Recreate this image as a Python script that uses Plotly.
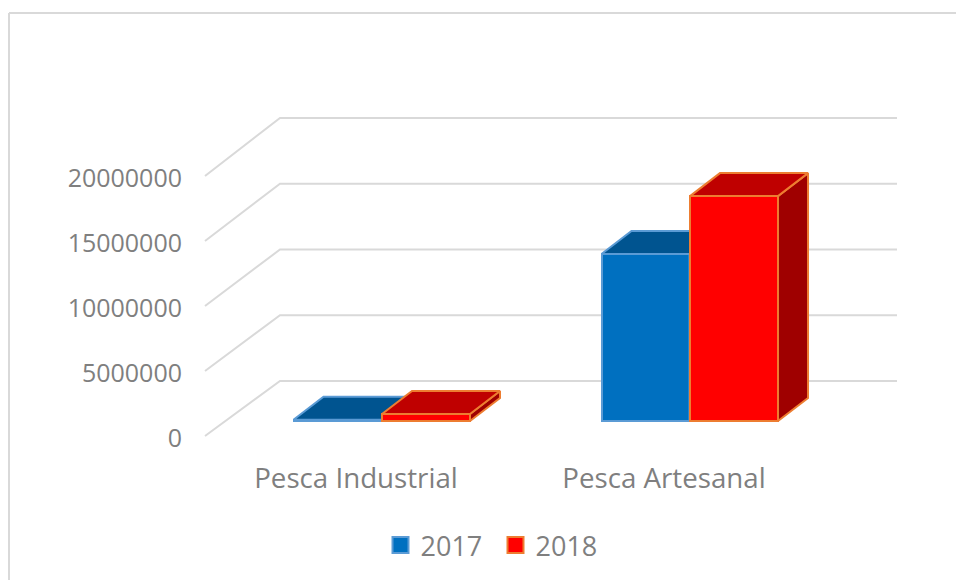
import plotly.graph_objects as go

categories = ["Pesca Industrial", "Pesca Artesanal"]
series_names = ["2017", "2018"]
values_2017 = [100000, 12850000]
values_2018 = [540000, 17300000]
y_ticks = [0, 5000000, 10000000, 15000000, 20000000]

W, H = 956, 580
PX_Y = 13.0 / 1e6        # pixels per value unit
PX_X = 308.0             # pixels per category
X0 = 356.0               # pixel of first category
Y0 = 438.0               # pixel of value 0
LEFT, BOTTOM = 190, 452

def dx(px):
    return px / PX_X

def dy(px):
    return px / PX_Y

x_range = [(LEFT - X0) / PX_X, (W - X0) / PX_X]
y_range = [(Y0 - BOTTOM) / PX_Y, Y0 / PX_Y]

FONT = "Open Sans"
TEXT = "#7f7f7f"
GRID = "#d9d9d9"
BAR_W = dx(88)
DEPTH_X, DEPTH_Y = dx(30), dy(23)
BASE = dy(17)
OFFSETS = [dx(-62.5), dx(26)]
STYLE = [
    dict(front="#0070c0", top="#005490", side="#004f86", line="#5b9bd5"),
    dict(front="#ff0000", top="#bf0000", side="#9f0000", line="#ed7d31"),
]

fig = go.Figure()

# Wall and floor gridlines
BACK_X, BACK_Y = dx(75), dy(55)
BACK_SCALE = 65.75 / 65
GRID_SHIFT = dy(2)
grid_left = dx(205 - X0)
grid_right = dx(897 - X0)
gx, gy = [], []
for t in y_ticks:
    gx += [grid_left, grid_left + BACK_X, grid_right, None]
    gy += [t + GRID_SHIFT, t * BACK_SCALE + BACK_Y + GRID_SHIFT, t * BACK_SCALE + BACK_Y + GRID_SHIFT, None]
fig.add_trace(go.Scatter(x=gx, y=gy, mode="lines", line=dict(color=GRID, width=2),
                         hoverinfo="skip", showlegend=False))

for i, (name, vals) in enumerate(zip(series_names, [values_2017, values_2018])):
    st = STYLE[i]
    xa, ya = f"x{i + 2}", f"y{i + 2}"
    off = OFFSETS[i]
    fig.add_trace(go.Bar(x=list(range(len(categories))), y=vals, base=BASE, offset=off, width=BAR_W,
                         marker=dict(color=st["front"], line=dict(color=st["line"], width=2)),
                         xaxis=xa, yaxis=ya, name=name, showlegend=False))
    sx, sy, tx, ty = [], [], [], []
    for k, v in enumerate(vals):
        l = k + off
        r = l + BAR_W
        top = BASE + v
        sx += [r, r + DEPTH_X, r + DEPTH_X, r, r, None]
        sy += [BASE, BASE + DEPTH_Y, top + DEPTH_Y, top, BASE, None]
        tx += [l, l + DEPTH_X, r + DEPTH_X, r, l, None]
        ty += [top, top + DEPTH_Y, top + DEPTH_Y, top, top, None]
    for px, py, col in [(sx, sy, st["side"]), (tx, ty, st["top"])]:
        fig.add_trace(go.Scatter(x=px, y=py, mode="lines", fill="toself", fillcolor=col,
                                 line=dict(color=st["line"], width=2), xaxis=xa, yaxis=ya,
                                 hoverinfo="skip", showlegend=False))

# Legend entries
for i, name in enumerate(series_names):
    fig.add_trace(go.Scatter(x=[None], y=[None], mode="markers", name=name,
                             marker=dict(symbol="square", size=16, color=STYLE[i]["front"],
                                         line=dict(color=STYLE[i]["line"], width=2))))

frame = dict(type="line", xref="paper", yref="paper", line=dict(color=GRID, width=2))
pw, ph = W - LEFT, BOTTOM
def fx(px):
    return (px - LEFT) / pw
def fy(px):
    return (BOTTOM - px) / ph

fig.update_layout(
    width=W, height=H,
    margin=dict(l=LEFT, r=0, t=0, b=H - BOTTOM, pad=0),
    paper_bgcolor="white", plot_bgcolor="rgba(0,0,0,0)",
    font=dict(family=FONT, color=TEXT, size=24),
    bargap=0,
    xaxis=dict(range=x_range, showgrid=False, zeroline=False, showline=False,
               tickmode="array", tickvals=list(range(len(categories))), ticktext=categories,
               ticks="", ticklabelstandoff=7, tickfont=dict(size=27.7, color=TEXT)),
    yaxis=dict(range=y_range, showgrid=False, zeroline=False, showline=False,
               tickmode="array", tickvals=y_ticks, ticktext=[str(t) for t in y_ticks],
               ticks="", ticklabelstandoff=7, tickfont=dict(size=25, color=TEXT)),
    xaxis2=dict(range=x_range, overlaying="x", visible=False),
    yaxis2=dict(range=y_range, overlaying="y", visible=False),
    xaxis3=dict(range=x_range, overlaying="x", visible=False),
    yaxis3=dict(range=y_range, overlaying="y", visible=False),
    legend=dict(orientation="h", xref="container", yref="container", x=380.5 / W, y=1 - 521 / H,
                xanchor="left", yanchor="top", font=dict(size=27, color=TEXT),
                entrywidth=70, entrywidthmode="pixels",
                bgcolor="rgba(0,0,0,0)", itemclick=False, itemdoubleclick=False),
    shapes=[
        dict(frame, x0=fx(9), x1=fx(9), y0=fy(13), y1=fy(H)),
        dict(frame, x0=fx(9), x1=fx(W), y0=fy(13), y1=fy(13)),
    ],
)

fig.write_html("out.html", post_script="document.body.style.margin='0';",
               config={"displayModeBar": False})
